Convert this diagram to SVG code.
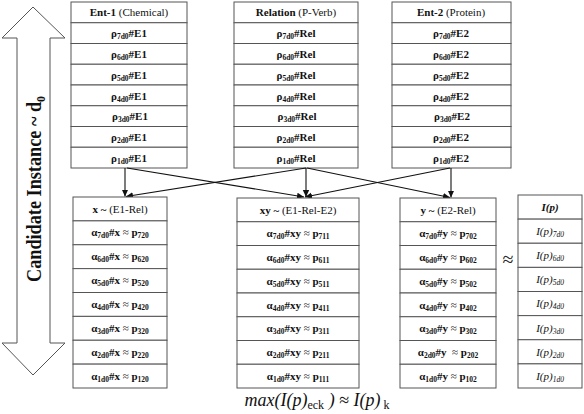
<svg xmlns="http://www.w3.org/2000/svg" width="584" height="414" viewBox="0 0 584 414">
<style>
.c{fill:#fff;stroke:#555;stroke-width:1}
.t{font-family:"Liberation Serif","Times New Roman",serif;font-size:11px;fill:#111;text-anchor:middle}
.b{font-weight:bold}
.n{font-weight:normal}
.s{font-size:7.5px}
.i{font-style:italic}
.ln{stroke:#111;stroke-width:1.1;fill:none;marker-end:url(#ah)}
</style>
<defs>
<marker id="ah" markerUnits="userSpaceOnUse" markerWidth="8" markerHeight="8" refX="7" refY="4" orient="auto">
<path d="M0,0.8 L7,4 L0,7.2 Z" fill="#111"/>
</marker>
</defs>
<rect width="584" height="414" fill="#fff"/>

<g id="axis">
<polygon points="33,7 65,38 50,38 50,343 65,343 33,375 2,343 17,343 17,38 2,38" fill="#fff" stroke="#555" stroke-width="1"/>
<text transform="translate(41,189) rotate(-90)" text-anchor="middle" font-family="Liberation Serif,'Times New Roman',serif" font-weight="bold" font-size="20" textLength="186" lengthAdjust="spacingAndGlyphs" fill="#111">Candidate Instance ~ d<tspan font-size="13" dy="4">0</tspan></text>
</g>

<g id="ent1">
<rect class="c" x="71" y="2" width="116" height="20.75"/>
<rect class="c" x="71" y="22.75" width="116" height="20.75"/>
<rect class="c" x="71" y="43.5" width="116" height="20.75"/>
<rect class="c" x="71" y="64.25" width="116" height="20.75"/>
<rect class="c" x="71" y="85" width="116" height="20.75"/>
<rect class="c" x="71" y="105.75" width="116" height="20.75"/>
<rect class="c" x="71" y="126.5" width="116" height="20.75"/>
<rect class="c" x="71" y="147.25" width="116" height="20.75"/>
<text class="t" x="129" y="16"><tspan class="b">Ent-1</tspan> (Chemical)</text>
<text class="t b" x="129" y="37">ρ<tspan class="s" dy="2">7d0</tspan><tspan dy="-2">#E1</tspan></text>
<text class="t b" x="129" y="58">ρ<tspan class="s" dy="2">6d0</tspan><tspan dy="-2">#E1</tspan></text>
<text class="t b" x="129" y="78.5">ρ<tspan class="s" dy="2">5d0</tspan><tspan dy="-2">#E1</tspan></text>
<text class="t b" x="129" y="99.5">ρ<tspan class="s" dy="2">4d0</tspan><tspan dy="-2">#E1</tspan></text>
<text class="t b" x="130" y="120">ρ<tspan class="s" dy="2">3d0</tspan><tspan dy="-2">#E1</tspan></text>
<text class="t b" x="129" y="141">ρ<tspan class="s" dy="2">2d0</tspan><tspan dy="-2">#E1</tspan></text>
<text class="t b" x="129" y="161.5">ρ<tspan class="s" dy="2">1d0</tspan><tspan dy="-2">#E1</tspan></text>
</g>

<g id="relation">
<rect class="c" x="234" y="2" width="124" height="20.75"/>
<rect class="c" x="234" y="22.75" width="124" height="20.75"/>
<rect class="c" x="234" y="43.5" width="124" height="20.75"/>
<rect class="c" x="234" y="64.25" width="124" height="20.75"/>
<rect class="c" x="234" y="85" width="124" height="20.75"/>
<rect class="c" x="234" y="105.75" width="124" height="20.75"/>
<rect class="c" x="234" y="126.5" width="124" height="20.75"/>
<rect class="c" x="234" y="147.25" width="124" height="20.75"/>
<text class="t" x="296" y="16"><tspan class="b">Relation</tspan> (P-Verb)</text>
<text class="t b" x="296" y="37">ρ<tspan class="s" dy="2">7d0</tspan><tspan dy="-2">#Rel</tspan></text>
<text class="t b" x="296" y="58">ρ<tspan class="s" dy="2">6d0</tspan><tspan dy="-2">#Rel</tspan></text>
<text class="t b" x="296" y="78.5">ρ<tspan class="s" dy="2">5d0</tspan><tspan dy="-2">#Rel</tspan></text>
<text class="t b" x="296" y="99.5">ρ<tspan class="s" dy="2">4d0</tspan><tspan dy="-2">#Rel</tspan></text>
<text class="t b" x="297" y="120">ρ<tspan class="s" dy="2">3d0</tspan><tspan dy="-2">#Rel</tspan></text>
<text class="t b" x="296" y="141">ρ<tspan class="s" dy="2">2d0</tspan><tspan dy="-2">#Rel</tspan></text>
<text class="t b" x="296" y="161.5">ρ<tspan class="s" dy="2">1d0</tspan><tspan dy="-2">#Rel</tspan></text>
</g>

<g id="ent2">
<rect class="c" x="392" y="2" width="119" height="20.75"/>
<rect class="c" x="392" y="22.75" width="119" height="20.75"/>
<rect class="c" x="392" y="43.5" width="119" height="20.75"/>
<rect class="c" x="392" y="64.25" width="119" height="20.75"/>
<rect class="c" x="392" y="85" width="119" height="20.75"/>
<rect class="c" x="392" y="105.75" width="119" height="20.75"/>
<rect class="c" x="392" y="126.5" width="119" height="20.75"/>
<rect class="c" x="392" y="147.25" width="119" height="20.75"/>
<text class="t" x="451" y="16"><tspan class="b">Ent-2</tspan> (Protein)</text>
<text class="t b" x="451" y="37">ρ<tspan class="s" dy="2">7d0</tspan><tspan dy="-2">#E2</tspan></text>
<text class="t b" x="451" y="58">ρ<tspan class="s" dy="2">6d0</tspan><tspan dy="-2">#E2</tspan></text>
<text class="t b" x="451" y="78.5">ρ<tspan class="s" dy="2">5d0</tspan><tspan dy="-2">#E2</tspan></text>
<text class="t b" x="451" y="99.5">ρ<tspan class="s" dy="2">4d0</tspan><tspan dy="-2">#E2</tspan></text>
<text class="t b" x="452" y="120">ρ<tspan class="s" dy="2">3d0</tspan><tspan dy="-2">#E2</tspan></text>
<text class="t b" x="451" y="141">ρ<tspan class="s" dy="2">2d0</tspan><tspan dy="-2">#E2</tspan></text>
<text class="t b" x="451" y="161.5">ρ<tspan class="s" dy="2">1d0</tspan><tspan dy="-2">#E2</tspan></text>
</g>

<g id="connectors">
<line class="ln" x1="125" y1="168" x2="125" y2="196.5"/>
<line class="ln" x1="127" y1="168" x2="304" y2="197"/>
<line class="ln" x1="306" y1="168" x2="126" y2="196.5"/>
<line class="ln" x1="306" y1="168" x2="306" y2="197"/>
<line class="ln" x1="307" y1="168" x2="450" y2="197.5"/>
<line class="ln" x1="451" y1="168" x2="451" y2="197.5"/>
<line class="ln" x1="450" y1="168" x2="305" y2="197"/>
</g>

<g id="x-table">
<rect class="c" x="73" y="197" width="94" height="23.875"/>
<rect class="c" x="73" y="220.875" width="94" height="23.875"/>
<rect class="c" x="73" y="244.75" width="94" height="23.875"/>
<rect class="c" x="73" y="268.625" width="94" height="23.875"/>
<rect class="c" x="73" y="292.5" width="94" height="23.875"/>
<rect class="c" x="73" y="316.375" width="94" height="23.875"/>
<rect class="c" x="73" y="340.25" width="94" height="23.875"/>
<rect class="c" x="73" y="364.125" width="94" height="23.875"/>
<text class="t" x="120" y="212.5"><tspan class="b">x ~</tspan> (E1-Rel)</text>
<text class="t b" x="120" y="236">α<tspan class="s" dy="2">7d0</tspan><tspan dy="-2">#x <tspan class="n">≈</tspan> p</tspan><tspan class="s" dy="2">720</tspan></text>
<text class="t b" x="120" y="260">α<tspan class="s" dy="2">6d0</tspan><tspan dy="-2">#x <tspan class="n">≈</tspan> p</tspan><tspan class="s" dy="2">620</tspan></text>
<text class="t b" x="120" y="284">α<tspan class="s" dy="2">5d0</tspan><tspan dy="-2">#x <tspan class="n">≈</tspan> p</tspan><tspan class="s" dy="2">520</tspan></text>
<text class="t b" x="120" y="308">α<tspan class="s" dy="2">4d0</tspan><tspan dy="-2">#x <tspan class="n">≈</tspan> p</tspan><tspan class="s" dy="2">420</tspan></text>
<text class="t b" x="120" y="332">α<tspan class="s" dy="2">3d0</tspan><tspan dy="-2">#x <tspan class="n">≈</tspan> p</tspan><tspan class="s" dy="2">320</tspan></text>
<text class="t b" x="120" y="355.5">α<tspan class="s" dy="2">2d0</tspan><tspan dy="-2">#x <tspan class="n">≈</tspan> p</tspan><tspan class="s" dy="2">220</tspan></text>
<text class="t b" x="120" y="379.5">α<tspan class="s" dy="2">1d0</tspan><tspan dy="-2">#x <tspan class="n">≈</tspan> p</tspan><tspan class="s" dy="2">120</tspan></text>
</g>

<g id="xy-table">
<rect class="c" x="237" y="198" width="122" height="23.75"/>
<rect class="c" x="237" y="221.75" width="122" height="23.75"/>
<rect class="c" x="237" y="245.5" width="122" height="23.75"/>
<rect class="c" x="237" y="269.25" width="122" height="23.75"/>
<rect class="c" x="237" y="293" width="122" height="23.75"/>
<rect class="c" x="237" y="316.75" width="122" height="23.75"/>
<rect class="c" x="237" y="340.5" width="122" height="23.75"/>
<rect class="c" x="237" y="364.25" width="122" height="23.75"/>
<text class="t" x="298" y="213.5"><tspan class="b">xy ~</tspan> (E1-Rel-E2)</text>
<text class="t b" x="298" y="237">α<tspan class="s" dy="2">7d0</tspan><tspan dy="-2">#xy <tspan class="n">≈</tspan> p</tspan><tspan class="s" dy="2">711</tspan></text>
<text class="t b" x="298" y="261">α<tspan class="s" dy="2">6d0</tspan><tspan dy="-2">#xy <tspan class="n">≈</tspan> p</tspan><tspan class="s" dy="2">611</tspan></text>
<text class="t b" x="298" y="284.5">α<tspan class="s" dy="2">5d0</tspan><tspan dy="-2">#xy <tspan class="n">≈</tspan> p</tspan><tspan class="s" dy="2">511</tspan></text>
<text class="t b" x="298" y="308.5">α<tspan class="s" dy="2">4d0</tspan><tspan dy="-2">#xy <tspan class="n">≈</tspan> p</tspan><tspan class="s" dy="2">411</tspan></text>
<text class="t b" x="298" y="332">α<tspan class="s" dy="2">3d0</tspan><tspan dy="-2">#xy <tspan class="n">≈</tspan> p</tspan><tspan class="s" dy="2">311</tspan></text>
<text class="t b" x="298" y="356">α<tspan class="s" dy="2">2d0</tspan><tspan dy="-2">#xy <tspan class="n">≈</tspan> p</tspan><tspan class="s" dy="2">211</tspan></text>
<text class="t b" x="298" y="380">α<tspan class="s" dy="2">1d0</tspan><tspan dy="-2">#xy <tspan class="n">≈</tspan> p</tspan><tspan class="s" dy="2">111</tspan></text>
</g>

<g id="y-table">
<rect class="c" x="400" y="198" width="96" height="23.75"/>
<rect class="c" x="400" y="221.75" width="96" height="23.75"/>
<rect class="c" x="400" y="245.5" width="96" height="23.75"/>
<rect class="c" x="400" y="269.25" width="96" height="23.75"/>
<rect class="c" x="400" y="293" width="96" height="23.75"/>
<rect class="c" x="400" y="316.75" width="96" height="23.75"/>
<rect class="c" x="400" y="340.5" width="96" height="23.75"/>
<rect class="c" x="400" y="364.25" width="96" height="23.75"/>
<text class="t" x="448" y="213.5"><tspan class="b">y ~</tspan> (E2-Rel)</text>
<text class="t b" x="448" y="237">α<tspan class="s" dy="2">7d0</tspan><tspan dy="-2">#y <tspan class="n">≈</tspan> p</tspan><tspan class="s" dy="2">702</tspan></text>
<text class="t b" x="448" y="261">α<tspan class="s" dy="2">6d0</tspan><tspan dy="-2">#y <tspan class="n">≈</tspan> p</tspan><tspan class="s" dy="2">602</tspan></text>
<text class="t b" x="448" y="284.5">α<tspan class="s" dy="2">5d0</tspan><tspan dy="-2">#y <tspan class="n">≈</tspan> p</tspan><tspan class="s" dy="2">502</tspan></text>
<text class="t b" x="448" y="308.5">α<tspan class="s" dy="2">4d0</tspan><tspan dy="-2">#y <tspan class="n">≈</tspan> p</tspan><tspan class="s" dy="2">402</tspan></text>
<text class="t b" x="448" y="332">α<tspan class="s" dy="2">3d0</tspan><tspan dy="-2">#y <tspan class="n">≈</tspan> p</tspan><tspan class="s" dy="2">302</tspan></text>
<text class="t b" x="448" y="356">α<tspan class="s" dy="2">2d0</tspan><tspan dy="-2">#y &#160;<tspan class="n">≈</tspan> p</tspan><tspan class="s" dy="2">202</tspan></text>
<text class="t b" x="448" y="380">α<tspan class="s" dy="2">1d0</tspan><tspan dy="-2">#y <tspan class="n">≈</tspan> p</tspan><tspan class="s" dy="2">102</tspan></text>
</g>

<text id="approx" x="508" y="266" text-anchor="middle" font-family="Liberation Serif,'Times New Roman',serif" font-size="20" fill="#222">≈</text>

<g id="ip-table">
<rect class="c" x="518" y="195" width="64" height="24.125"/>
<rect class="c" x="518" y="219.125" width="64" height="24.125"/>
<rect class="c" x="518" y="243.25" width="64" height="24.125"/>
<rect class="c" x="518" y="267.375" width="64" height="24.125"/>
<rect class="c" x="518" y="291.5" width="64" height="24.125"/>
<rect class="c" x="518" y="315.625" width="64" height="24.125"/>
<rect class="c" x="518" y="339.75" width="64" height="24.125"/>
<rect class="c" x="518" y="363.875" width="64" height="24.125"/>
<text class="t b i" x="550" y="211">I(p)</text>
<text class="t i" x="550" y="235">I(p)<tspan class="s" dy="2">7d0</tspan></text>
<text class="t i" x="550" y="259">I(p)<tspan class="s" dy="2">6d0</tspan></text>
<text class="t i" x="550" y="283">I(p)<tspan class="s" dy="2">5d0</tspan></text>
<text class="t i" x="550" y="307">I(p)<tspan class="s" dy="2">4d0</tspan></text>
<text class="t i" x="550" y="331.5">I(p)<tspan class="s" dy="2">3d0</tspan></text>
<text class="t i" x="550" y="355.5">I(p)<tspan class="s" dy="2">2d0</tspan></text>
<text class="t i" x="550" y="379.5">I(p)<tspan class="s" dy="2">1d0</tspan></text>
</g>

<text id="formula" x="317" y="406" text-anchor="middle" font-family="Liberation Serif,'Times New Roman',serif" font-style="italic" font-size="18" fill="#111">max(I(p)<tspan font-size="12" font-style="normal" dy="3">eck</tspan><tspan dy="-3"> ) ≈ I(p)</tspan><tspan font-size="12" font-style="normal" dy="3"> k</tspan></text>
</svg>
